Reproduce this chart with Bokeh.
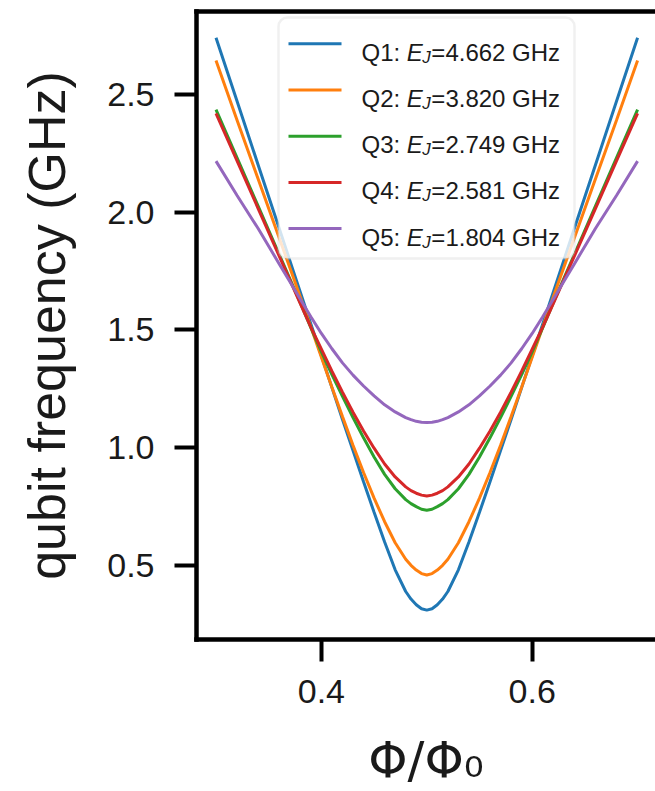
from bokeh.plotting import figure
from bokeh.models import Range1d, FixedTicker, LinearAxis, BoxAnnotation
from bokeh.core.properties import value
from bokeh.embed import file_html
from bokeh.resources import INLINE

# ---------------- data ----------------
phi = [0.30, 0.32, 0.34, 0.36, 0.37, 0.38, 0.39, 0.40, 0.41, 0.42, 0.43, 0.44, 0.45, 0.46, 0.47,
       0.48, 0.485, 0.49, 0.495, 0.50, 0.505, 0.51, 0.515, 0.52, 0.53, 0.54, 0.55, 0.56, 0.57,
       0.58, 0.59, 0.60, 0.61, 0.62, 0.63, 0.64, 0.66, 0.68, 0.70]
q1 = [2.740, 2.470, 2.200, 1.930, 1.795, 1.660, 1.525, 1.390, 1.255, 1.120, 0.988, 0.856, 0.726, 0.600, 0.482,
      0.390, 0.358, 0.334, 0.317, 0.311, 0.317, 0.334, 0.358, 0.390, 0.482, 0.600, 0.726, 0.856, 0.988,
      1.120, 1.255, 1.390, 1.525, 1.660, 1.795, 1.930, 2.200, 2.470, 2.740]
q2 = [2.643, 2.390, 2.140, 1.890, 1.765, 1.640, 1.512, 1.384, 1.257, 1.132, 1.010, 0.895, 0.786, 0.686, 0.597,
      0.527, 0.501, 0.481, 0.466, 0.460, 0.466, 0.481, 0.501, 0.527, 0.597, 0.686, 0.786, 0.895, 1.010,
      1.132, 1.257, 1.384, 1.512, 1.640, 1.765, 1.890, 2.140, 2.390, 2.643]
q3 = [2.435, 2.230, 2.025, 1.820, 1.718, 1.615, 1.510, 1.407, 1.310, 1.218, 1.128, 1.042, 0.961, 0.887, 0.826,
      0.780, 0.763, 0.750, 0.739, 0.735, 0.739, 0.750, 0.763, 0.780, 0.826, 0.887, 0.961, 1.042, 1.128,
      1.218, 1.310, 1.407, 1.510, 1.615, 1.718, 1.820, 2.025, 2.230, 2.435]
q4 = [2.419, 2.217, 2.015, 1.813, 1.712, 1.611, 1.512, 1.418, 1.325, 1.236, 1.151, 1.071, 0.998, 0.931, 0.876,
      0.834, 0.818, 0.807, 0.799, 0.795, 0.799, 0.807, 0.818, 0.834, 0.876, 0.931, 0.998, 1.071, 1.151,
      1.236, 1.325, 1.418, 1.512, 1.611, 1.712, 1.813, 2.015, 2.217, 2.419]
q5 = [2.216, 2.070, 1.930, 1.780, 1.705, 1.630, 1.556, 1.485, 1.420, 1.360, 1.308, 1.262, 1.220, 1.182, 1.152,
      1.128, 1.119, 1.112, 1.108, 1.107, 1.108, 1.112, 1.119, 1.128, 1.152, 1.182, 1.220, 1.262, 1.308,
      1.360, 1.420, 1.485, 1.556, 1.630, 1.705, 1.780, 1.930, 2.070, 2.216]

series = [q1, q2, q3, q4, q5]
series_names = ["Q1", "Q2", "Q3", "Q4", "Q5"]
ej_values = ["4.662", "3.820", "2.749", "2.581", "1.804"]
colors = ["#1f77b4", "#ff7f0e", "#2ca02c", "#d62728", "#9467bd"]

x_ticks = [0.4, 0.6]
x_tick_labels = ["0.4", "0.6"]
y_ticks = [0.5, 1.0, 1.5, 2.0, 2.5]
y_tick_labels = ["0.5", "1.0", "1.5", "2.0", "2.5"]

# ---------------- layout ----------------
W, H = 655, 791
FL, FR, FT, FB = 196, 655, 11, 639
X0, X1 = 0.2815, 0.7170
Y0, Y1 = 0.1863, 2.851
TXT = "#1a1a1a"


def dx(px):
    return X0 + (px - FL) * (X1 - X0) / (FR - FL)


def dy(py):
    return Y1 - (py - FT) * (Y1 - Y0) / (FB - FT)


p = figure(width=W, height=H, x_range=Range1d(X0, X1), y_range=Range1d(Y0, Y1),
           output_backend="svg", toolbar_location=None,
           min_border_left=FL, min_border_right=W - FR,
           min_border_top=FT, min_border_bottom=H - FB,
           x_axis_label="Φ/Φ₀", y_axis_label="qubit frequency (GHz)")
p.outline_line_color = None
p.xgrid.visible = False
p.ygrid.visible = False
p.background_fill_color = "white"
p.border_fill_color = "white"

for ax in (p.xaxis[0], p.yaxis[0]):
    ax.axis_line_width = 4.5
    ax.axis_line_color = "black"
    ax.axis_line_cap = "square"
    ax.major_tick_line_width = 4
    ax.major_tick_line_color = "black"
    ax.major_tick_out = 22
    ax.major_tick_in = 0
    ax.minor_tick_line_color = None
    ax.major_label_text_font = "Liberation Sans"
    ax.major_label_text_font_size = "34px"
    ax.major_label_text_color = TXT
    ax.axis_label_text_font_style = "normal"
    ax.axis_label_text_color = TXT

p.xaxis[0].ticker = FixedTicker(ticks=x_ticks)
p.xaxis[0].major_label_overrides = dict(zip(x_ticks, x_tick_labels))
p.xaxis[0].major_label_standoff = 18
p.xaxis[0].axis_label_standoff = 25
p.xaxis[0].axis_label_text_font = "DejaVu Sans"
p.xaxis[0].axis_label_text_font_size = "50px"

p.yaxis[0].ticker = FixedTicker(ticks=y_ticks)
p.yaxis[0].major_label_overrides = dict(zip(y_ticks, y_tick_labels))
p.yaxis[0].major_label_standoff = 20
p.yaxis[0].axis_label_standoff = 28
p.yaxis[0].axis_label_text_font = "Liberation Sans"
p.yaxis[0].axis_label_text_font_size = "52px"

top = LinearAxis(ticker=FixedTicker(ticks=[]), axis_line_width=4.5, axis_line_color="black",
                 axis_line_cap="square", major_tick_out=0, major_tick_in=0,
                 major_label_standoff=0, minor_tick_line_color=None,
                 major_tick_line_color=None)
p.add_layout(top, "above")

for vals, c in zip(series, colors):
    p.line(phi, vals, line_color=c, line_width=3)

# ---------------- legend (manual, to get the italic subscript) ----------------
box = BoxAnnotation(left=dx(278), right=dx(574), top=dy(17), bottom=dy(258),
                    fill_color="white", fill_alpha=0.8, line_color="#cccccc",
                    line_width=2.5, border_radius=9)
p.add_layout(box)

ADV = {'Q': 0.778, ':': 0.278, ' ': 0.278, '=': 0.584, '.': 0.278, 'G': 0.778,
       'H': 0.722, 'z': 0.5, 'E': 0.667, 'J': 0.5}
for d in "0123456789":
    ADV[d] = 0.556


def tw(s, fs):
    return sum(ADV.get(ch, 0.556) for ch in s) * fs


LEG_FS, SUB_FS = 24, 17
reg_x, reg_y, reg_t = [], [], []
it_x, it_y, it_t = [], [], []
sub_x, sub_y, sub_t = [], [], []
for i, (name, ej, c) in enumerate(zip(series_names, ej_values, colors)):
    yc = 43.3 + 46.2 * i
    base = yc + 0.358 * LEG_FS
    p.segment(x0=[dx(288)], y0=[dy(yc)], x1=[dx(341)], y1=[dy(yc)],
              line_color=c, line_width=3, level="overlay")
    pre = f"{name}: "
    x_pre = 361
    x_e = x_pre + tw(pre, LEG_FS)
    x_j = x_e + 0.667 * LEG_FS - 0.5
    x_r = x_j + 0.5 * SUB_FS + 0.5
    reg_x += [dx(x_pre), dx(x_r)]
    reg_y += [dy(base), dy(base)]
    reg_t += [pre, f"={ej} GHz"]
    it_x.append(dx(x_e)); it_y.append(dy(base)); it_t.append("E")
    sub_x.append(dx(x_j)); sub_y.append(dy(base + 5)); sub_t.append("J")

p.text(x=reg_x, y=reg_y, text=reg_t, text_font=value("Liberation Sans"),
       text_font_size=f"{LEG_FS}px", text_baseline="alphabetic", text_align="left",
       text_color=TXT, level="overlay")
p.text(x=it_x, y=it_y, text=it_t, text_font=value("Liberation Sans"),
       text_font_style="italic", text_font_size=f"{LEG_FS}px",
       text_baseline="alphabetic", text_align="left", text_color=TXT, level="overlay")
p.text(x=sub_x, y=sub_y, text=sub_t, text_font=value("Liberation Sans"),
       text_font_style="italic", text_font_size=f"{SUB_FS}px",
       text_baseline="alphabetic", text_align="left", text_color=TXT, level="overlay")

open("out.html", "w").write(file_html(p, INLINE))
